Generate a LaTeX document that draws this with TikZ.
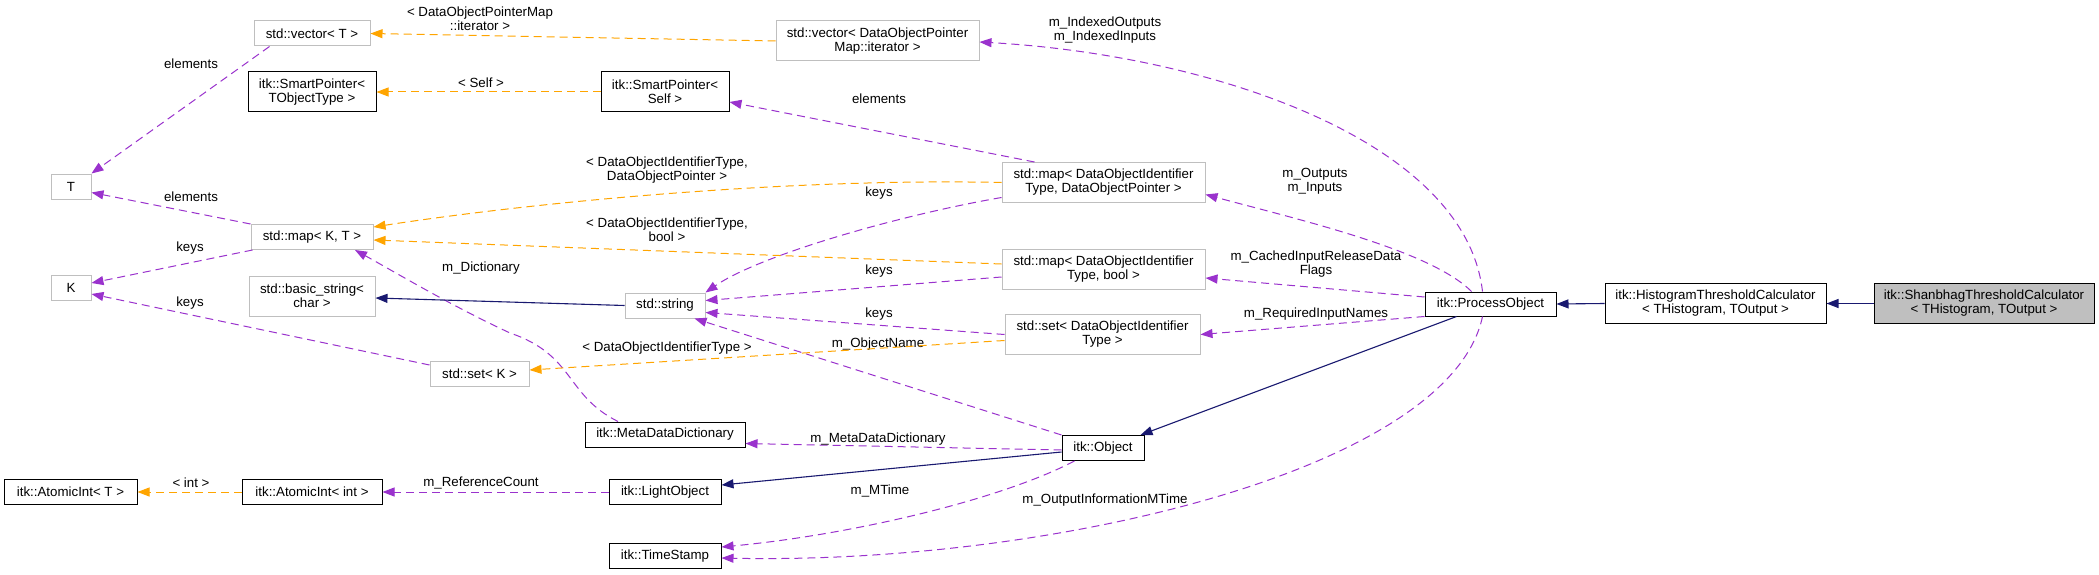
\documentclass[tikz,border=0pt]{standalone}
\usepackage{fontspec}
\setmainfont{Liberation Sans}
\usetikzlibrary{arrows.meta}
\definecolor{usecol}{HTML}{9A32CD}
\definecolor{tplcol}{HTML}{FFA500}
\definecolor{inhcol}{HTML}{191970}
\definecolor{boxgray}{HTML}{BFBFBF}

\begin{document}
\begin{tikzpicture}[x=1pt, y=-1pt,
	every node/.style={font=\fontsize{13.3}{14}\selectfont, inner sep=2pt, align=center},
	cls/.style={draw=black, line width=1pt, fill=white, minimum height=25},
	ext/.style={draw=boxgray, line width=1pt, fill=white, minimum height=25},
	uses/.style={-{Triangle[length=12pt,width=9pt]}, draw=usecol, line width=1pt, dash pattern=on 8pt off 5pt},
	tmpl/.style={uses, draw=tplcol},
	inh/.style={-{Triangle[length=12pt,width=9pt]}, draw=inhcol, line width=1.1pt},
	lbl/.style={text=black, inner sep=0pt}]
	\useasboundingbox[fill=white] (0,0) rectangle (2099,575);
	% classes
	\node[ext, minimum width=116] (vecT) at (312,33.5) {std::vector< T >};
	\node[cls, minimum width=128, minimum height=40] (spT) at (312,92) {itk::SmartPointer<\\TObjectType >};
	\node[ext, minimum width=40] (T) at (71,186.5) {T};
	\node[ext, minimum width=122] (mapKT) at (312,237) {std::map< K, T >};
	\node[ext, minimum width=40] (K) at (71,288) {K};
	\node[ext, minimum width=126, minimum height=40] (bstr) at (312,296) {std::basic\_string<\\char >};
	\node[ext, minimum width=99] (setK) at (479.5,374) {std::set< K >};
	\node[cls, minimum width=160] (mdd) at (665,434.5) {itk::MetaDataDictionary};
	\node[cls, minimum width=133] (aiT) at (70.5,492) {itk::AtomicInt< T >};
	\node[cls, minimum width=140] (aiInt) at (312,492) {itk::AtomicInt< int >};
	\node[cls, minimum width=112] (light) at (665,492) {itk::LightObject};
	\node[cls, minimum width=112] (stamp) at (665,556) {itk::TimeStamp};
	\node[cls, minimum width=128, minimum height=40] (spSelf) at (665,92) {itk::SmartPointer<\\Self >};
	\node[ext, minimum width=80] (str) at (665,305.5) {std::string};
	\node[ext, minimum width=203, minimum height=40] (vecIt) at (877.5,41) {std::vector< DataObjectPointer\\Map::iterator >};
	\node[ext, minimum width=203, minimum height=40] (mapPtr) at (1103.5,182.5) {std::map< DataObjectIdentifier\\Type, DataObjectPointer >};
	\node[ext, minimum width=203, minimum height=40] (mapBool) at (1103.5,269) {std::map< DataObjectIdentifier\\Type, bool >};
	\node[ext, minimum width=195, minimum height=40] (setId) at (1102.5,334.5) {std::set< DataObjectIdentifier\\Type >};
	\node[cls, minimum width=82] (obj) at (1103,448) {itk::Object};
	\node[cls, minimum width=131, minimum height=24] (proc) at (1490.5,304) {itk::ProcessObject};
	\node[cls, minimum width=221, minimum height=40] (hist) at (1715.5,303.5) {itk::HistogramThresholdCalculator\\< THistogram, TOutput >};
	\node[cls, fill=boxgray, minimum width=220, minimum height=40] (shan) at (1984,303.5) {itk::ShanbhagThresholdCalculator\\< THistogram, TOutput >};
	% members
	\draw[uses] ([xshift=16pt]vecT.south west) -- (T.north east) node[lbl] at (191,64) {elements};
	\draw[uses] (mapKT.north west) -- ([yshift=-6pt]T.east) node[lbl] at (191,197) {elements};
	\draw[uses] ([xshift=2pt]mapKT.south west) -- ([yshift=5pt]K.east) node[lbl] at (190,248) {keys};
	\draw[uses] ([yshift=-4pt]setK.north west) -- ([yshift=-6pt]K.east) node[lbl] at (190,303) {keys};
	\draw[uses] ([xshift=-47pt]mdd.north) .. controls (565,395) and (575,355) .. (510,333)
		.. controls (450,305) and (400,275) .. ([xshift=43pt]mapKT.south) node[lbl] at (481,268) {m\_Dictionary};
	\draw[uses] ([xshift=-69pt]mapPtr.north) -- ([yshift=-10pt]spSelf.east) node[lbl] at (879,99) {elements};
	\draw[uses] ([yshift=-15pt]mapPtr.west) .. controls (900,215) and (760,255) .. (str.north east) node[lbl] at (879,193) {keys};
	\draw[uses] ([yshift=-8pt]mapBool.west) -- ([yshift=5pt]str.east) node[lbl] at (879,271) {keys};
	\draw[uses] (setId.west) -- ([yshift=-7pt]str.east) node[lbl] at (879,314) {keys};
	\draw[uses] (obj.north west) -- ([xshift=-11pt]str.south east) node[lbl] at (878,344) {m\_ObjectName};
	\draw[uses] ([yshift=-2pt]obj.west) -- ([yshift=-9pt]mdd.east) node[lbl] at (878,439) {m\_MetaDataDictionary};
	\draw[uses] (light.west) -- (aiInt.east) node[lbl] at (481,483) {m\_ReferenceCount};
	\draw[uses] ([xshift=13pt]obj.south west) .. controls (1000,500) and (850,535) .. ([yshift=9pt]stamp.east) node[lbl] at (880,491) {m\_MTime};
	\draw[uses] ([xshift=-8pt]proc.south) .. controls (1450,470) and (1050,565) .. ([yshift=-2pt]stamp.east) node[lbl] at (1105,500) {m\_OutputInformationMTime};
	\draw[uses] ([xshift=-8pt]proc.north) .. controls (1465,140) and (1210,55) .. ([yshift=-1pt]vecIt.east) node[lbl] at (1105,30) {m\_IndexedOutputs\\m\_IndexedInputs};
	\draw[uses] ([xshift=-19pt]proc.north) .. controls (1430,250) and (1300,220) .. ([yshift=-12pt]mapPtr.east) node[lbl] at (1315,181) {m\_Outputs\\m\_Inputs};
	\draw[uses] ([yshift=7pt]proc.west) -- ([yshift=-9pt]mapBool.east) node[lbl] at (1316,264) {m\_CachedInputReleaseData\\Flags};
	\draw[uses] (proc.south west) -- (setId.east) node[lbl] at (1316,314) {m\_RequiredInputNames};
	% template instances
	\draw[tmpl] (vecIt.west) -- (vecT.east) node[lbl] at (480,19) {< DataObjectPointerMap\\::iterator >};
	\draw[tmpl] (spSelf.west) -- (spT.east) node[lbl] at (481,83) {< Self >};
	\draw[tmpl] (mapPtr.west) .. controls (800,178) and (550,200) .. ([yshift=10pt]mapKT.east) node[lbl] at (667,170) {< DataObjectIdentifierType,\\DataObjectPointer >};
	\draw[tmpl] ([yshift=5pt]mapBool.west) -- ([yshift=-3pt]mapKT.east) node[lbl] at (667,230) {< DataObjectIdentifierType,\\bool >};
	\draw[tmpl] ([yshift=-6pt]setId.west) -- ([yshift=4pt]setK.east) node[lbl] at (667,348) {< DataObjectIdentifierType >};
	\draw[tmpl] (aiInt.west) -- (aiT.east) node[lbl] at (191,483) {< int >};
	% inheritance
	\draw[inh] (shan.west) -- (hist.east);
	\draw[inh] (hist.west) -- (proc.east);
	\draw[inh] ([xshift=-34pt]proc.south) -- ([xshift=-4pt]obj.north east);
	\draw[inh] ([yshift=-4pt]obj.west) -- ([yshift=7pt]light.east);
	\draw[inh] (str.west) -- ([yshift=-2pt]bstr.east);
\end{tikzpicture}
\end{document}
